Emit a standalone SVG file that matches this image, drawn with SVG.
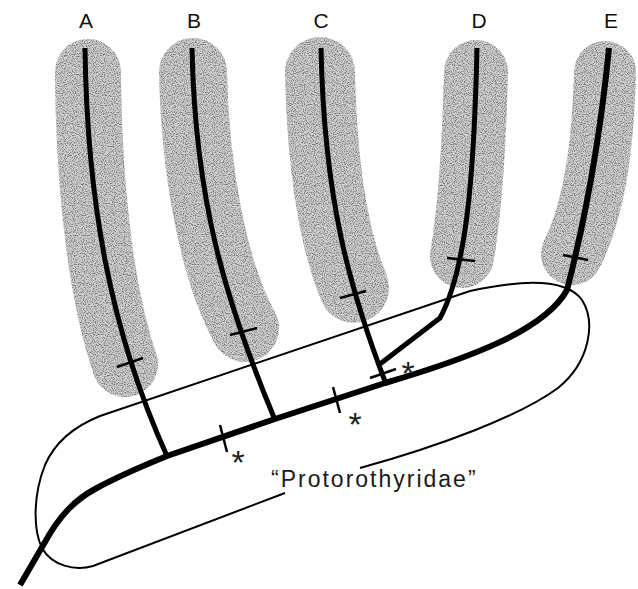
<svg xmlns="http://www.w3.org/2000/svg" width="638" height="589" viewBox="0 0 638 589">
<style>
.blob{fill:none;stroke:#d2d2d2;stroke-linecap:round;filter:url(#stip)}
.lab{font-family:"Liberation Sans",Arial,sans-serif;font-size:21px;fill:#111;text-anchor:middle}
.br{fill:none;stroke:#000;stroke-width:5;stroke-linecap:butt;stroke-linejoin:round}
.trunk{fill:none;stroke:#000;stroke-width:6;stroke-linecap:butt;stroke-linejoin:round}
.tick{stroke:#000;stroke-width:2.5;fill:none}
.outl{fill:none;stroke:#000;stroke-width:2}
.ast{font-family:"Liberation Sans",Arial,sans-serif;font-size:34px;fill:#222;text-anchor:middle}
.grp{font-family:"Liberation Sans",Arial,sans-serif;font-size:23px;letter-spacing:2px;fill:#1a1a1a}
</style>
<defs>
<filter id="stip" filterUnits="userSpaceOnUse" x="0" y="0" width="638" height="589">
<feTurbulence type="fractalNoise" baseFrequency="0.9" numOctaves="1" seed="7" result="n"/>
<feColorMatrix in="n" type="matrix" values="0 0 0 0 0.2  0 0 0 0 0.2  0 0 0 0 0.2  -4 0 0 0 2.3" result="d"/>
<feComposite in="d" in2="SourceAlpha" operator="in" result="dc"/>
<feMerge><feMergeNode in="SourceGraphic"/><feMergeNode in="dc"/></feMerge>
</filter>
</defs>
<rect width="638" height="589" fill="#fff"/>
<g id="node-A">
<path class="blob" stroke-width="66" d="M88,72 C89,200 103,300 125,364"/>
<text class="lab" x="86" y="28">A</text>
</g>
<g id="node-B">
<path class="blob" stroke-width="68" d="M193,72 C195,170 213,270 245,328"/>
<text class="lab" x="194" y="28">B</text>
</g>
<g id="node-C">
<path class="blob" stroke-width="70" d="M320,72 C322,170 334,240 354,288"/>
<text class="lab" x="321" y="28">C</text>
</g>
<g id="node-D">
<path class="blob" stroke-width="64" d="M476,72 C474,150 470,210 462,256"/>
<text class="lab" x="479" y="28">D</text>
</g>
<g id="node-E">
<path class="blob" stroke-width="62" d="M605,72 C603,150 594,210 572,254"/>
<text class="lab" x="611" y="28">E</text>
</g>
<g id="protorothyridae">
<path class="outl" d="M360,468 C440,446 520,416 558,388 C590,362 596,322 582,300 C566,278 520,280 470,291 L100,416 C75,426 55,442 45,465 C33,495 33,530 42,548 C52,566 75,571 93,566 L285,493"/>
<text class="grp" x="271" y="487">“Protorothyridae”</text>
</g>
<g id="connectors">
<path class="trunk" d="M20,585 L45,542 C60,515 75,500 95,489 C115,478 140,467 167,456 L275,419 L385,383 C470,358 545,330 567,290 C585,220 600,140 609,48"/>
<path class="br" d="M85,48 C87,200 110,330 167,456"/>
<path class="br" d="M192,48 C195,200 225,300 275,420"/>
<path class="br" d="M321,48 C324,200 350,290 386,384"/>
<path class="br" d="M477,48 C474,180 466,270 440,318 L380,364"/>
<g class="tick">
<line x1="117" y1="367" x2="143" y2="358"/>
<line x1="230" y1="335" x2="257" y2="328"/>
<line x1="340" y1="298" x2="366" y2="291"/>
<line x1="447" y1="258" x2="475" y2="261"/>
<line x1="563" y1="255" x2="588" y2="260"/>
<line x1="370" y1="378" x2="396" y2="369"/>
<line x1="220" y1="425" x2="227" y2="452"/>
<line x1="333" y1="387" x2="340" y2="413"/>
</g>
</g>
<g id="markers">
<text class="ast" x="238" y="474">*</text>
<text class="ast" x="355" y="436">*</text>
<text class="ast" x="408" y="385">*</text>
</g>
</svg>
